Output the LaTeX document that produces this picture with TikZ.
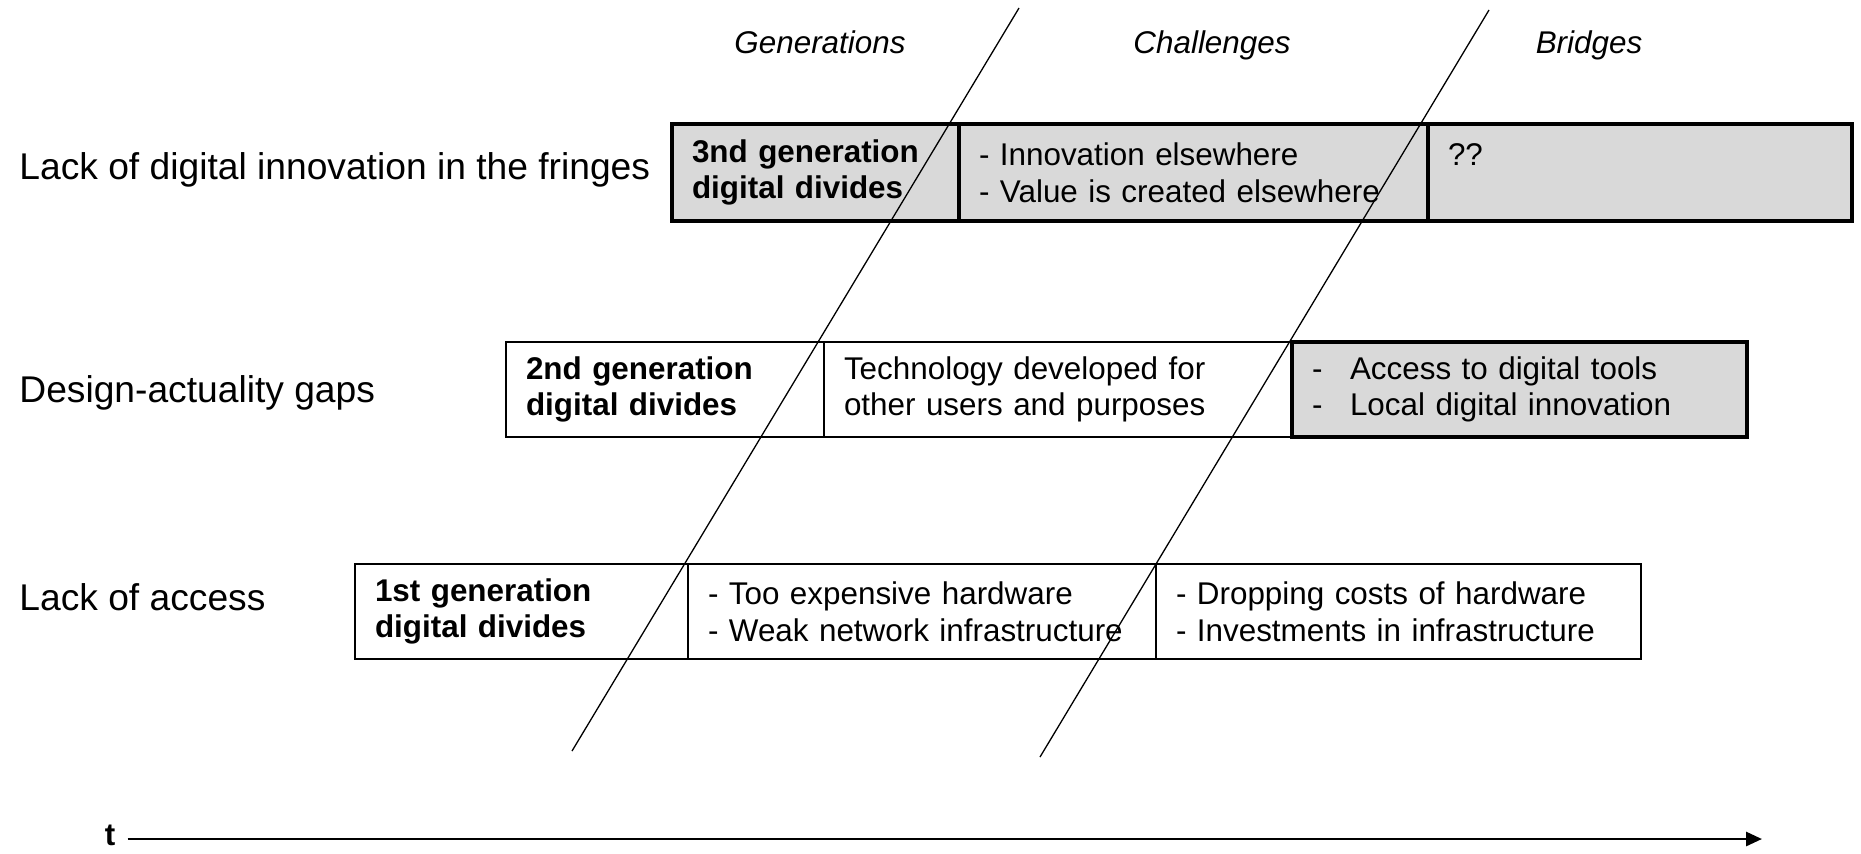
\documentclass[tikz,border=0pt]{standalone}
\usepackage{fontspec}
\setmainfont{Liberation Sans}
\usetikzlibrary{arrows.meta,positioning}
\definecolor{gapColor}{RGB}{217,217,217}
\newcommand{\tabdash}{\makebox[19pt][l]{-}}
\tikzset{cell/.style={draw, line width=.6pt, outer sep=0pt, inner xsep=10pt, inner ysep=0pt, minimum height=47.5pt, text width=#1, align=left, font=\fontsize{15.7}{18.3}\selectfont}}
\tikzset{gapcell/.style={cell=#1, fill=gapColor, line width=1.7pt}}
\tikzset{rowlabel/.style={anchor=base west, inner sep=0pt, font=\fontsize{18.6}{22}\selectfont}}
\tikzset{heading/.style={anchor=base, inner sep=0pt, font=\fontsize{15.7}{19}\selectfont\itshape}}
\tikzstyle{arrow} = [-{Triangle[length=8pt, width=7pt]}, line width=1.4pt]
\tikzstyle{cut} = [line width=.65pt]

\begin{document}
\begin{tikzpicture}[x=.5pt, y=-.5pt]
	\useasboundingbox (0,0) rectangle (1861,853);

	% Column headings
	\node (generations) [heading] at (820,53) {Generations};
	\node (challenges) [heading] at (1212,53) {Challenges};
	\node (bridges) [heading] at (1589,53) {Bridges};

	% Row labels
	\node (fringes) [rowlabel] at (19,179) {Lack of digital innovation in the fringes};
	\node (gaps) [rowlabel] at (19,402) {Design-actuality gaps};
	\node (access) [rowlabel] at (19,610) {Lack of access};

	% Third generation
	\node (gen3) [gapcell=123.5pt, anchor=north west, minimum height=48.5pt] at (672,124)
		{\textbf{3nd generation}\\ \textbf{digital divides}};
	\node (chal3) [gapcell=214.5pt, minimum height=48.5pt, right=0pt of gen3]
		{- Innovation elsewhere\\ - Value is created elsewhere};
	\node (bridge3) [gapcell=192pt, minimum height=48.5pt, right=0pt of chal3] {??\\ ~};

	% Second generation
	\node (gen2) [cell=139pt, anchor=north west] at (506,342)
		{\textbf{2nd generation}\\ \textbf{digital divides}};
	\node (chal2) [cell=214pt, right=0pt of gen2]
		{Technology developed for\\ other users and purposes};
	\node (bridge2) [gapcell=207.5pt, right=0pt of chal2]
		{\tabdash Access to digital tools\\ \tabdash Local digital innovation};

	% First generation
	\node (gen1) [cell=146.5pt, anchor=north west] at (355,564)
		{\textbf{1st generation}\\ \textbf{digital divides}};
	\node (chal1) [cell=214pt, right=0pt of gen1]
		{- Too expensive hardware\\ - Weak network infrastructure};
	\node (bridge1) [cell=222.5pt, right=0pt of chal1]
		{- Dropping costs of hardware\\ - Investments in infrastructure};

	% Slanted separators
	\coordinate (cut1top) at (1019,8);
	\coordinate (cut1bot) at (572,751);
	\coordinate (cut2top) at (1489,10);
	\coordinate (cut2bot) at (1040,757);
	\draw [cut] (cut1top) -- (cut1bot);
	\draw [cut] (cut2top) -- (cut2bot);

	% Time axis
	\node (time) [inner xsep=6pt] at (110,835) {\fontsize{15.7}{19}\selectfont\bfseries t};
	\coordinate (timeend) at (1762,839);
	\draw [arrow] (time.east |- timeend) -- (timeend);

\end{tikzpicture}
\end{document}
